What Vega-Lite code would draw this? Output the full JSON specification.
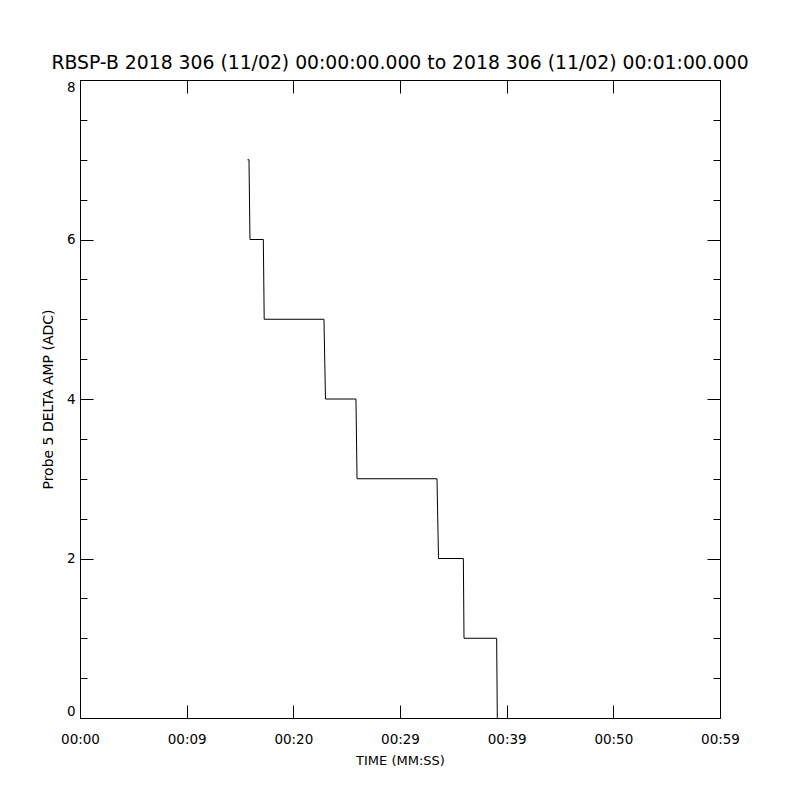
{
  "$schema": "https://vega.github.io/schema/vega-lite/v6.json",
  "autosize": "none",
  "width": 640,
  "height": 638,
  "padding": {"left": 80, "top": 80, "right": 80, "bottom": 82},
  "background": "white",
  "config": {
    "view": {"stroke": null},
    "font": "DejaVu Sans",
    "axis": {
      "domainColor": "black",
      "domainWidth": 1,
      "tickColor": "black",
      "tickWidth": 1,
      "labelColor": "black",
      "titleColor": "black",
      "labelFont": "DejaVu Sans",
      "titleFont": "DejaVu Sans",
      "labelFontSize": 13.5,
      "titleFontSize": 13,
      "titleFontWeight": "normal",
      "grid": false
    }
  },
  "title": {
    "text": "RBSP-B 2018 306 (11/02) 00:00:00.000 to 2018 306 (11/02) 00:01:00.000",
    "font": "DejaVu Sans",
    "fontSize": 18.8,
    "fontWeight": "normal",
    "color": "black",
    "anchor": "middle",
    "baseline": "alphabetic",
    "offset": -8
  },
  "data": {
    "values": [
      {"t": 15.44, "amp": 7},
      {"t": 15.58, "amp": 7},
      {"t": 15.67, "amp": 6},
      {"t": 16.90, "amp": 6},
      {"t": 16.98, "amp": 5},
      {"t": 22.49, "amp": 5},
      {"t": 22.63, "amp": 4},
      {"t": 25.44, "amp": 4},
      {"t": 25.54, "amp": 3},
      {"t": 32.91, "amp": 3},
      {"t": 33.05, "amp": 2},
      {"t": 35.34, "amp": 2},
      {"t": 35.40, "amp": 1},
      {"t": 38.41, "amp": 1},
      {"t": 38.47, "amp": 0}
    ]
  },
  "layer": [
    {
      "mark": {"type": "line", "color": "black", "strokeWidth": 1, "clip": true},
      "encoding": {
        "x": {
          "field": "t", "type": "quantitative",
          "scale": {"domain": [0, 59], "nice": false, "zero": false},
          "axis": {
            "orient": "bottom",
            "values": [0, 9.833333, 19.666667, 29.5, 39.333333, 49.166667, 59],
            "labelExpr": "['00:00','00:09','00:20','00:29','00:39','00:50','00:59'][round(datum.value*6/59)]",
            "tickSize": -13,
            "labelPadding": 27,
            "labelFlush": false,
            "labelOverlap": false,
            "title": "TIME (MM:SS)",
            "titlePadding": 9
          }
        },
        "y": {
          "field": "amp", "type": "quantitative",
          "scale": {"domain": [0, 8], "nice": false, "zero": false},
          "axis": {
            "orient": "left",
            "values": [0, 0.5, 1, 1.5, 2, 2.5, 3, 3.5, 4, 4.5, 5, 5.5, 6, 6.5, 7, 7.5, 8],
            "labelExpr": "datum.value % 2 == 0 ? format(datum.value, 'd') : ''",
            "tickSize": {"condition": {"test": "datum.value % 2 == 0", "value": -13}, "value": -7},
            "labelPadding": 18,
            "labelFlush": true,
            "labelFlushOffset": 0,
            "labelOverlap": false,
            "title": "Probe 5 DELTA AMP (ADC)",
            "titleFontSize": 14,
            "titlePadding": 11
          }
        }
      }
    },
    {
      "mark": {"type": "line", "color": "black", "strokeWidth": 1, "opacity": 0},
      "encoding": {
        "x": {
          "field": "t", "type": "quantitative",
          "axis": {
            "orient": "top",
            "values": [0, 9.833333, 19.666667, 29.5, 39.333333, 49.166667, 59],
            "labels": false,
            "tickSize": -13,
            "title": null
          }
        },
        "y": {
          "field": "amp", "type": "quantitative",
          "axis": {
            "orient": "right",
            "values": [0, 0.5, 1, 1.5, 2, 2.5, 3, 3.5, 4, 4.5, 5, 5.5, 6, 6.5, 7, 7.5, 8],
            "labels": false,
            "tickSize": {"condition": {"test": "datum.value % 2 == 0", "value": -13}, "value": -7},
            "title": null
          }
        }
      }
    }
  ],
  "resolve": {"axis": {"x": "independent", "y": "independent"}}
}
